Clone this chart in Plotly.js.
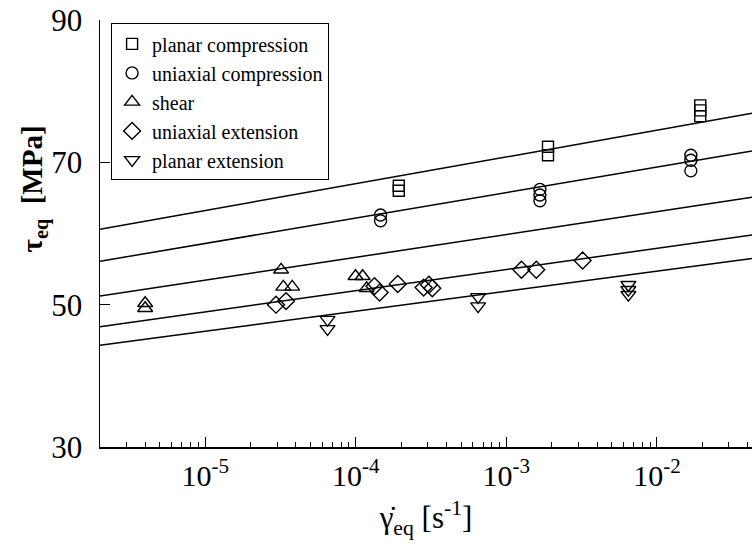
<!DOCTYPE html>
<html>
<head>
<meta charset="utf-8">
<script src="https://cdn.plot.ly/plotly-3.0.1.min.js"></script>
<style>html,body{margin:0;padding:0;background:#fff;}#chart{width:752px;height:547px;}</style>
</head>
<body>
<div id="chart"></div>
<script>
// Series names
const seriesNames = ["planar compression", "uniaxial compression", "shear", "uniaxial extension", "planar extension"];

// planar compression (squares)
const pcX = [1.93e-4, 1.93e-4, 1.89e-3, 1.89e-3, 0.0194, 0.0194, 0.0194];
const pcY = [66.7, 66.0, 72.2, 71.0, 78.0, 77.3, 76.5];

// uniaxial compression (circles)
const ucX = [1.46e-4, 1.46e-4, 1.67e-3, 1.67e-3, 1.67e-3, 0.0168, 0.0168, 0.0168];
const ucY = [62.6, 61.8, 66.2, 65.4, 64.6, 71.0, 70.3, 68.8];

// shear (triangles up)
const shX = [3.99e-6, 3.99e-6, 3.19e-5, 3.30e-5, 3.78e-5, 9.96e-5, 1.11e-4, 1.18e-4];
const shY = [50.2, 49.5, 54.9, 52.5, 52.5, 54.0, 54.0, 52.3];

// uniaxial extension (diamonds)
const ueX = [2.95e-5, 3.44e-5, 1.33e-4, 1.44e-4, 1.90e-4, 2.82e-4, 3.06e-4, 3.22e-4, 1.26e-3, 1.58e-3, 3.21e-3];
const ueY = [50.0, 50.5, 52.6, 51.7, 52.9, 52.4, 52.8, 52.3, 54.9, 54.9, 56.2];

// planar extension (triangles down)
const peX = [6.49e-5, 6.49e-5, 6.49e-4, 6.49e-4, 6.46e-3, 6.46e-3, 6.46e-3];
const peY = [47.9, 46.6, 51.1, 49.8, 52.8, 52.1, 51.4];

// fitted lines: end points (x) and values at those ends for each series
const fitX = [2.0e-6, 0.0428];
const fitPC = [60.6, 76.9];
const fitUC = [56.1, 71.6];
const fitSH = [51.2, 65.1];
const fitUE = [46.9, 59.8];
const fitPE = [44.3, 56.5];

// tick labels
const xTickVals = [1e-5, 1e-4, 1e-3, 1e-2];
const xTickText = ["10<sup>-5</sup>", "10<sup>-4</sup>", "10<sup>-3</sup>", "10<sup>-2</sup>"];
const yTickVals = [30, 50, 70, 90];
const yTickText = ["30", "50", "70", "90"];

const serif = '"Liberation Serif", "Times New Roman", serif';
const mk = (sym, size) => ({symbol: sym, size: size, color: "#000", line: {color: "#000", width: 1.4}});

const traces = [];
[fitPC, fitUC, fitSH, fitUE, fitPE].forEach(f => {
  traces.push({x: fitX, y: f, mode: "lines", line: {color: "#000", width: 1.5}, showlegend: false, hoverinfo: "skip"});
});
traces.push({x: pcX, y: pcY, name: seriesNames[0], mode: "markers", marker: mk("square-open", 11)});
traces.push({x: ucX, y: ucY, name: seriesNames[1], mode: "markers", marker: mk("circle-open", 12)});
traces.push({x: shX, y: shY, name: seriesNames[2], mode: "markers", marker: mk("triangle-up-open", 13)});
traces.push({x: ueX, y: ueY, name: seriesNames[3], mode: "markers", marker: mk("diamond-open", 13)});
traces.push({x: peX, y: peY, name: seriesNames[4], mode: "markers", marker: mk("triangle-down-open", 13)});

// minor tick positions (axis styling)
const minorVals = [];
for (let e = -6; e <= -2; e++) for (let m = 2; m <= 9; m++) minorVals.push(m * Math.pow(10, e));

const layout = {
  width: 752, height: 547,
  margin: {l: 100, r: 0, t: 20, b: 100},
  paper_bgcolor: "#fff", plot_bgcolor: "#fff",
  font: {family: serif, color: "#000"},
  showlegend: true,
  legend: {
    x: 0.017, y: 0.992, xanchor: "left", yanchor: "top",
    bgcolor: "#fff", bordercolor: "#000", borderwidth: 1,
    font: {family: serif, size: 20, color: "#000"},
    tracegroupgap: 0
  },
  xaxis: {
    type: "log",
    range: [Math.log10(2.0e-6), Math.log10(0.0428)],
    tickmode: "array", tickvals: xTickVals, ticktext: xTickText,
    ticks: "inside", ticklen: 10, tickwidth: 1, tickcolor: "#000",
    minor: {tickmode: "array", tickvals: minorVals, ticks: "inside", ticklen: 5, tickwidth: 1, tickcolor: "#000", showgrid: false},
    showline: true, linecolor: "#000", linewidth: 1.5,
    showgrid: false, zeroline: false,
    ticklabelstandoff: 1,
    tickfont: {family: serif, size: 30, color: "#000"},
    title: {text: "γ̇<sub>eq</sub> [s<sup>-1</sup>]", font: {family: serif, size: 31, color: "#000"}, standoff: 16}
  },
  yaxis: {
    range: [30, 90],
    tickmode: "array", tickvals: yTickVals, ticktext: yTickText,
    ticks: "inside", ticklen: 10, tickwidth: 1, tickcolor: "#000",
    showline: true, linecolor: "#000", linewidth: 1.5,
    showgrid: false, zeroline: false,
    ticklabelstandoff: 10,
    tickfont: {family: serif, size: 31, color: "#000"}
  },
  annotations: [{
    text: "<b>τ<sub>eq</sub>  [MPa]</b>",
    xref: "paper", yref: "paper",
    x: -0.1, y: 0.605, xanchor: "center", yanchor: "middle",
    textangle: -90, showarrow: false,
    font: {family: serif, size: 29, color: "#000"}
  }]
};

Plotly.newPlot("chart", traces, layout, {staticPlot: true, displayModeBar: false});
</script>
</body>
</html>
